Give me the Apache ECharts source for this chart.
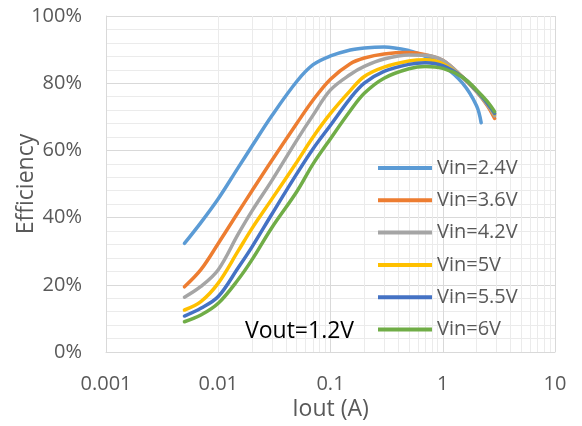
<!DOCTYPE html>
<html>
<head>
<meta charset="utf-8">
<script src="https://cdn.jsdelivr.net/npm/echarts@6/dist/echarts.min.js"></script>
<style>
html,body{margin:0;padding:0;background:#fff;}
#c{width:582px;height:426px;}
</style>
</head>
<body>
<div id="c"></div>
<script>
// ---- data (Iout in A, efficiency in %) ----
var seriesNames = ['Vin=2.4V', 'Vin=3.6V', 'Vin=4.2V', 'Vin=5V', 'Vin=5.5V', 'Vin=6V'];
var seriesColors = ['#5B9BD5', '#ED7D31', '#A5A5A5', '#FFC000', '#4472C4', '#70AD47'];

var iout24 = [0.005, 0.007, 0.01, 0.015, 0.02, 0.03, 0.05, 0.07, 0.1, 0.15, 0.2, 0.3, 0.5, 0.7, 1, 1.5, 2, 2.2];
var ioutHi = [0.005, 0.007, 0.01, 0.015, 0.02, 0.03, 0.05, 0.07, 0.1, 0.15, 0.2, 0.3, 0.5, 0.7, 1, 1.5, 2, 2.5, 2.9];

var eff24 = [32.3, 38.5, 45.6, 54.8, 61.3, 70.3, 80.5, 85.5, 88.1, 89.9, 90.5, 90.8, 89.7, 88.0, 85.3, 80.0, 73.3, 68.2];
var eff36 = [19.4, 24.5, 32.3, 41.5, 48.0, 57.0, 68.0, 75.0, 81.2, 85.8, 87.5, 88.7, 89.1, 88.5, 86.8, 81.8, 77.5, 73.3, 69.5];
var eff42 = [16.3, 19.5, 24.5, 35.0, 42.0, 51.0, 63.0, 70.5, 78.0, 82.6, 85.0, 87.2, 88.4, 88.3, 86.8, 81.8, 77.5, 73.5, 70.3];
var eff50 = [12.5, 15.0, 20.5, 30.0, 36.8, 45.5, 56.5, 64.0, 71.0, 77.8, 82.0, 84.8, 86.6, 87.0, 85.8, 81.8, 77.8, 74.0, 70.8];
var eff55 = [10.7, 13.0, 16.5, 25.0, 31.3, 41.0, 53.0, 60.5, 67.5, 75.5, 80.0, 83.5, 85.6, 86.1, 85.2, 81.8, 77.8, 74.0, 71.0];
var eff60 = [9.0, 11.0, 14.5, 21.5, 27.5, 37.0, 47.7, 56.0, 63.5, 71.8, 77.0, 81.5, 84.3, 85.0, 84.4, 81.8, 78.0, 74.5, 71.5];

var xTickLabels = ['0.001', '0.01', '0.1', '1', '10'];
var yTicks = [0, 20, 40, 60, 80, 100];
var minorMultipliers = [2, 3, 4, 5, 6, 7, 8, 9];
var decades = [0.001, 0.01, 0.1, 1];
var annotation = 'Vout=1.2V';

// ---- build ----
function pairs(xs, ys) { return xs.map(function (x, i) { return [x, ys[i]]; }); }
var allX = [iout24, ioutHi, ioutHi, ioutHi, ioutHi, ioutHi];
var allY = [eff24, eff36, eff42, eff50, eff55, eff60];

var minorX = [];
decades.forEach(function (d) { minorMultipliers.forEach(function (m) { minorX.push(+(d * m).toPrecision(3)); }); });

var FONT = '"Open Sans"';
var series = [{
  name: 'minorgrid', type: 'line', data: [], z: 1, silent: true,
  markLine: {
    silent: true, symbol: ['none', 'none'], animation: false, z: 1,
    label: { show: false },
    lineStyle: { color: '#EBEBEB', width: 1, type: 'solid' },
    data: minorX.map(function (v) { return { xAxis: v }; })
  }
}];
seriesNames.forEach(function (n, i) {
  series.push({
    name: n, type: 'line', data: pairs(allX[i], allY[i]),
    smooth: 0.35, showSymbol: false, symbol: 'none', z: 3 + i,
    lineStyle: { width: 3.5, color: seriesColors[i], cap: 'round' },
    itemStyle: { color: seriesColors[i] }
  });
});

var chart = echarts.init(document.getElementById('c'), null, { renderer: 'canvas' });
chart.setOption({
  animation: false,
  backgroundColor: '#fff',
  textStyle: { fontFamily: FONT },
  grid: { left: 106, right: 27, top: 16, bottom: 74, containLabel: false, outerBoundsMode: 'none' },
  xAxis: {
    type: 'log', logBase: 10, min: 0.001, max: 10,
    name: 'Iout (A)', nameLocation: 'middle', nameGap: 46, nameMoveOverlap: false,
    nameTextStyle: { color: '#595959', fontSize: 23, fontFamily: FONT },
    axisLine: { show: true, lineStyle: { color: '#D9D9D9', width: 1 } },
    axisTick: { show: false },
    axisLabel: {
      color: '#595959', fontSize: 20, fontFamily: FONT, margin: 22,
      formatter: function (v) { return xTickLabels[Math.round(Math.log10(v)) + 3]; }
    },
    splitLine: { show: true, lineStyle: { color: '#D9D9D9', width: 1 } }
  },
  yAxis: {
    type: 'value', min: yTicks[0], max: yTicks[yTicks.length - 1], interval: 20,
    name: 'Efficiency', nameLocation: 'middle', nameGap: 68, nameRotate: 90, nameMoveOverlap: false,
    nameTextStyle: { color: '#595959', fontSize: 23, fontFamily: FONT },
    axisLine: { show: true, lineStyle: { color: '#D9D9D9', width: 1 } },
    axisTick: { show: false },
    axisLabel: { color: '#595959', fontSize: 20, fontFamily: FONT, margin: 24, formatter: '{value}%' },
    splitLine: { show: true, lineStyle: { color: '#D9D9D9', width: 1 } },
    minorTick: { show: false, splitNumber: 5 },
    minorSplitLine: { show: true, lineStyle: { color: '#EBEBEB', width: 1 } }
  },
  legend: {
    data: seriesNames, orient: 'vertical', left: 378, top: 157, padding: 0,
    icon: 'rect', itemWidth: 54, itemHeight: 4, itemGap: 10.3,
    textStyle: { color: '#595959', fontSize: 20, fontFamily: FONT, lineHeight: 22 },
    selectedMode: false
  },
  graphic: [{
    type: 'text', x: 245, y: 331, silent: true, z: 10,
    style: { text: annotation, fill: '#000', font: '23px ' + FONT, verticalAlign: 'middle' }
  }],
  series: series
});
</script>
</body>
</html>
